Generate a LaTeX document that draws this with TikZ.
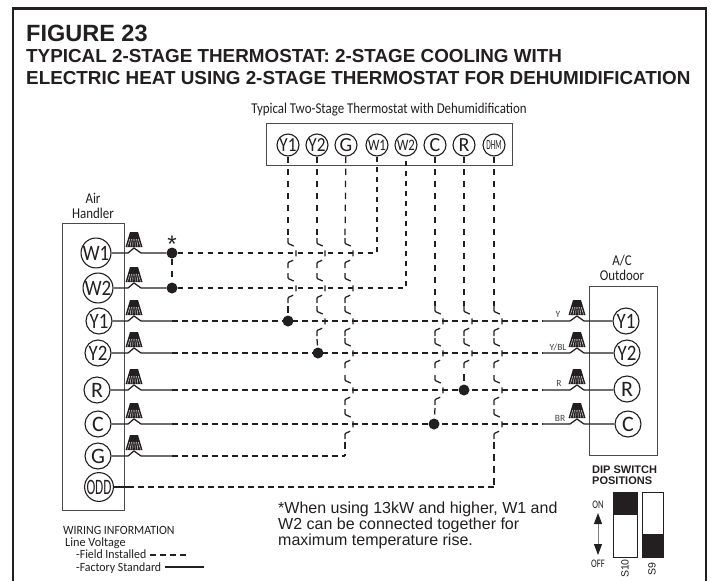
\documentclass[tikz,border=0pt]{standalone}
\usepackage{fontspec}
\setmainfont{Liberation Sans}
\newfontfamily\cond{Carlito}
\usetikzlibrary{arrows.meta}
\definecolor{ink}{HTML}{231F20}
\definecolor{boxgray}{HTML}{4A4A4A}
\newcommand{\fsz}[1]{\fontsize{#1}{#1}\selectfont}
\newcommand{\nar}[2][0.86]{\scalebox{#1}[1]{#2}}
\tikzset{
  frameline/.style={draw=ink,line width=2.5pt},
  panel/.style={draw=boxgray,line width=0.9pt,fill=white},
  term/.style={circle,draw=ink,line width=1.1pt,fill=white,minimum size=26pt,inner sep=0pt,text=ink,font=\cond\fsz{22}},
  tterm/.style={term,minimum size=22pt,font=\cond\fsz{20}},
  solidw/.style={draw=ink,line width=1.25pt},
  fieldw/.style={draw=ink,line width=1.25pt,dash pattern=on 5.5pt off 4.5pt},
  fieldv/.style={draw=ink,line width=1.25pt,dash pattern=on 6.5pt off 5.5pt},
  hopw/.style={draw=ink,line width=1.25pt,rounded corners=0.8pt,dash pattern=on 11.5pt off 5.5pt on 6pt off 5.5pt on 11.5pt off 20pt},
  joint/.style={circle,fill=ink,minimum size=11pt,inner sep=0pt},
  txt/.style={anchor=base west,inner sep=0pt,text=ink},
  ctxt/.style={anchor=base,inner sep=0pt,text=ink},
  lbl/.style={ctxt,font=\cond\fsz{15}},
  wirelbl/.style={ctxt,font=\cond\fsz{9.5},text=ink!85},
  legend/.style={txt,font=\cond\fsz{12.6}}
}
\newcommand{\hop}[2]{\draw[hopw] ({#1},{#2-15}) -- ({#1},{#2-9.5}) -- ({#1+8},{#2-6}) -- ({#1+8},{#2+6}) -- ({#1},{#2+9.5}) -- ({#1},{#2+15});}
\newcommand{\nut}[2]{%
  \fill[ink] ({#1-8.5},{#2-6}) -- ({#1-4},{#2-21}) -- ({#1+4},{#2-21}) -- ({#1+8.5},{#2-6}) -- cycle;
  \foreach \k in {-6.5,-3.9,-1.3,1.3,3.9,6.5}{\draw[white,line width=0.4pt] ({#1+\k},{#2-6.5}) -- ({#1+\k*0.65},{#2-14});}
}
\begin{document}
\begin{tikzpicture}[x=1pt,y=-1pt]
\useasboundingbox (0,0) rectangle (711,581);
\fill[white] (0,0) rectangle (711,581);
\draw[frameline] (13,581) -- (13,8.5) -- (706,8.5) -- (706,581);

% Title
\node[txt,font=\bfseries\fsz{23.5}] (fig) at (26,41) {FIGURE 23};
\node[txt,font=\bfseries\fsz{18.85}] (t1) at (26,62) {TYPICAL 2-STAGE THERMOSTAT: 2-STAGE COOLING WITH};
\node[txt,font=\bfseries\fsz{18.85}] (t2) at (26,84) {ELECTRIC HEAT USING 2-STAGE THERMOSTAT FOR DEHUMIDIFICATION};

% Panels
\node[lbl] (ttitle) at (389,113) {\nar[0.86]{Typical Two-Stage Thermostat with Dehumidification}};
\draw[panel] (266,123) rectangle (512,165);
\node[lbl] (ah1) at (93,203) {\nar{Air}};
\node[lbl] (ah2) at (93,218) {\nar{Handler}};
\draw[panel] (62,223) rectangle (124,510);
\node[lbl] (ac1) at (622,265) {\nar{A/C}};
\node[lbl] (ac2) at (622,280) {\nar{Outdoor}};
\draw[panel] (589,286) rectangle (657,455);

% Wire nuts
\foreach \yy in {253,288,321,353,390,424,456}{\nut{134}{\yy}}
\foreach \yy in {321,353,390,424}{\nut{577}{\yy}}

% Thermostat terminals
\node[tterm] (tY1) at (288,145) {\nar{Y1}};
\node[tterm] (tY2) at (317,145) {\nar{Y2}};
\node[tterm] (tG) at (346,145) {G};
\node[tterm,font=\cond\fsz{16}] (tW1) at (377,145) {\nar[0.8]{W1}};
\node[tterm,font=\cond\fsz{16}] (tW2) at (406,145) {\nar[0.8]{W2}};
\node[tterm] (tC) at (435,145) {C};
\node[tterm] (tR) at (464,145) {R};
\node[tterm,font=\cond\fsz{14}] (tD) at (494,145) {\nar[0.52]{DHM}};

% Air handler terminals
\node[term] (aW1) at (96,253) {\nar{W1}};
\node[term] (aW2) at (98,288) {\nar{W2}};
\node[term] (aY1) at (99,321) {\nar{Y1}};
\node[term] (aY2) at (98,353) {\nar{Y2}};
\node[term] (aR) at (97,390) {R};
\node[term] (aC) at (98,424) {C};
\node[term] (aG) at (98,456) {G};
\node[term,font=\cond\fsz{22}] (aO) at (99,487) {\nar[0.6]{ODD}};

% Outdoor terminals
\node[term] (cY1) at (626,321) {\nar{Y1}};
\node[term] (cY2) at (627,353) {\nar{Y2}};
\node[term] (cR) at (627,389) {R};
\node[term] (cC) at (628,424) {C};

% Junction dots
\node[joint] (jW1) at (172,253) {};
\node[joint] (jW2) at (172,288) {};
\node[joint] (jY1) at (288,321) {};
\node[joint] (jY2) at (318,353) {};
\node[joint] (jR) at (464,390) {};
\node[joint] (jC) at (434,424) {};
\node[ctxt,font=\fsz{24}] (star) at (172,252) {*};

% Solid ends: air handler side
\draw[solidw] (aW1) -- (128,253) -- (134,248) -- (141,253) -- (jW1);
\draw[solidw] (aW2) -- (128,288) -- (134,283) -- (141,288) -- (jW2);
\foreach \nm/\yy in {aY1/321,aY2/353,aR/390,aC/424,aG/456}{
  \draw[solidw] (\nm) -- (128,\yy) -- (134,\yy-5) -- (141,\yy) -- (172,\yy) coordinate (s\nm);
}
\draw[solidw] (aO) -- (128,487) coordinate (saO);

% Solid ends: outdoor side
\foreach \nm/\yy in {cY1/321,cY2/353,cR/390,cC/424}{
  \draw[solidw] (\nm.west |- 0,\yy) -- (584,\yy) -- (577,\yy-5) -- (570,\yy) -- (543,\yy) coordinate (s\nm);
}

% Dashed horizontal runs
\draw[fieldv] (jW1) -- (jW2);
\draw[fieldw] (jW1) -- (377,253) -- (tW1);
\draw[fieldw] (jW2) -- (406,288) -- (tW2);
\draw[fieldw] (saY1) -- (scY1);
\draw[fieldw] (saY2) -- (scY2);
\draw[fieldw] (saR) -- (scR);
\draw[fieldw] (saC) -- (scC);
\draw[fieldw] (saG) -- (345,456) coordinate (gEnd);
\draw[fieldw] (saO) -- (494,487) coordinate (dEnd);

% Vertical runs with hops over the horizontal wires
\draw[fieldv] (tY1) -- (288,238);
\hop{288}{253}\hop{288}{288}
\draw[fieldv] (288,306) -- (jY1);
\draw[fieldv] (tY2) -- (317,238);
\hop{317}{253}\hop{317}{288}\hop{317}{321}
\draw[fieldv] (317,339) -- (jY2);
\draw[fieldv] (tG) -- (345,238);
\hop{345}{253}\hop{345}{288}\hop{345}{321}\hop{345}{353}\hop{345}{390}\hop{345}{424}
\draw[fieldv] (345,442) -- (gEnd);
\draw[fieldv] (tC) -- (435,306);
\hop{435}{321}\hop{435}{353}\hop{435}{390}
\draw[fieldv] (435,408) -- (jC);
\draw[fieldv] (tR) -- (464,306);
\hop{464}{321}\hop{464}{353}
\draw[fieldv] (464,374) -- (jR);
\draw[fieldv] (tD) -- (494,306);
\hop{494}{321}\hop{494}{353}\hop{494}{390}\hop{494}{424}
\draw[fieldv] (494,442) -- (dEnd);

% Outdoor wire labels
\node[wirelbl] (lY) at (558,317) {Y};
\node[wirelbl] (lYB) at (558,350) {Y/BL};
\node[wirelbl] (lR) at (559,386) {R};
\node[wirelbl] (lB) at (560,421) {BR};

% Note
\node[txt,font=\fsz{16}] (n1) at (278,513) {*When using 13kW and higher, W1 and};
\node[txt,font=\fsz{16}] (n2) at (278,529) {W2 can be connected together for};
\node[txt,font=\fsz{16}] (n3) at (278,545) {maximum temperature rise.};

% Legend
\node[legend] (g1) at (63,534) {\nar[0.94]{WIRING INFORMATION}};
\node[legend] (g2) at (65,546) {\nar[0.97]{Line Voltage}};
\node[legend] (g3) at (76,558.5) {\nar[0.94]{-Field Installed}};
\node[legend] (g4) at (76,571) {\nar[0.94]{-Factory Standard}};
\coordinate (d1) at (150,555); \coordinate (d2) at (190,555);
\coordinate (e1) at (165,567); \coordinate (e2) at (204,567);
\draw[fieldw] (d1) -- (d2);
\draw[solidw] (e1) -- (e2);

% DIP switches
\node[txt,font=\bfseries\fsz{11}] (p1) at (592,473) {DIP SWITCH};
\node[txt,font=\bfseries\fsz{11}] (p2) at (592,484) {POSITIONS};
\draw[draw=ink,line width=0.9pt,fill=white] (613,492) rectangle (637,557);
\fill[ink] (613,492) rectangle (637,515);
\draw[draw=ink,line width=0.9pt,fill=white] (642,492) rectangle (663,557);
\fill[ink] (642,534) rectangle (663,557);
\node[ctxt,font=\cond\fsz{11.5}] (on) at (598,508) {\nar[0.75]{ON}};
\node[ctxt,font=\cond\fsz{11.5}] (off) at (598,567) {\nar[0.75]{OFF}};
\coordinate (au) at (598,513); \coordinate (ad) at (598,555);
\draw[draw=gray,line width=1pt,{Triangle[length=11pt,width=8pt,color=ink]}-{Triangle[length=11pt,width=8pt,color=ink]}] (au) -- (ad);
\node[rotate=90,inner sep=0pt,text=ink,font=\fsz{10.5}] (s10) at (625,568.5) {S10};
\node[rotate=90,inner sep=0pt,text=ink,font=\fsz{10.5}] (s9) at (652,569) {S9};
\end{tikzpicture}
\end{document}
